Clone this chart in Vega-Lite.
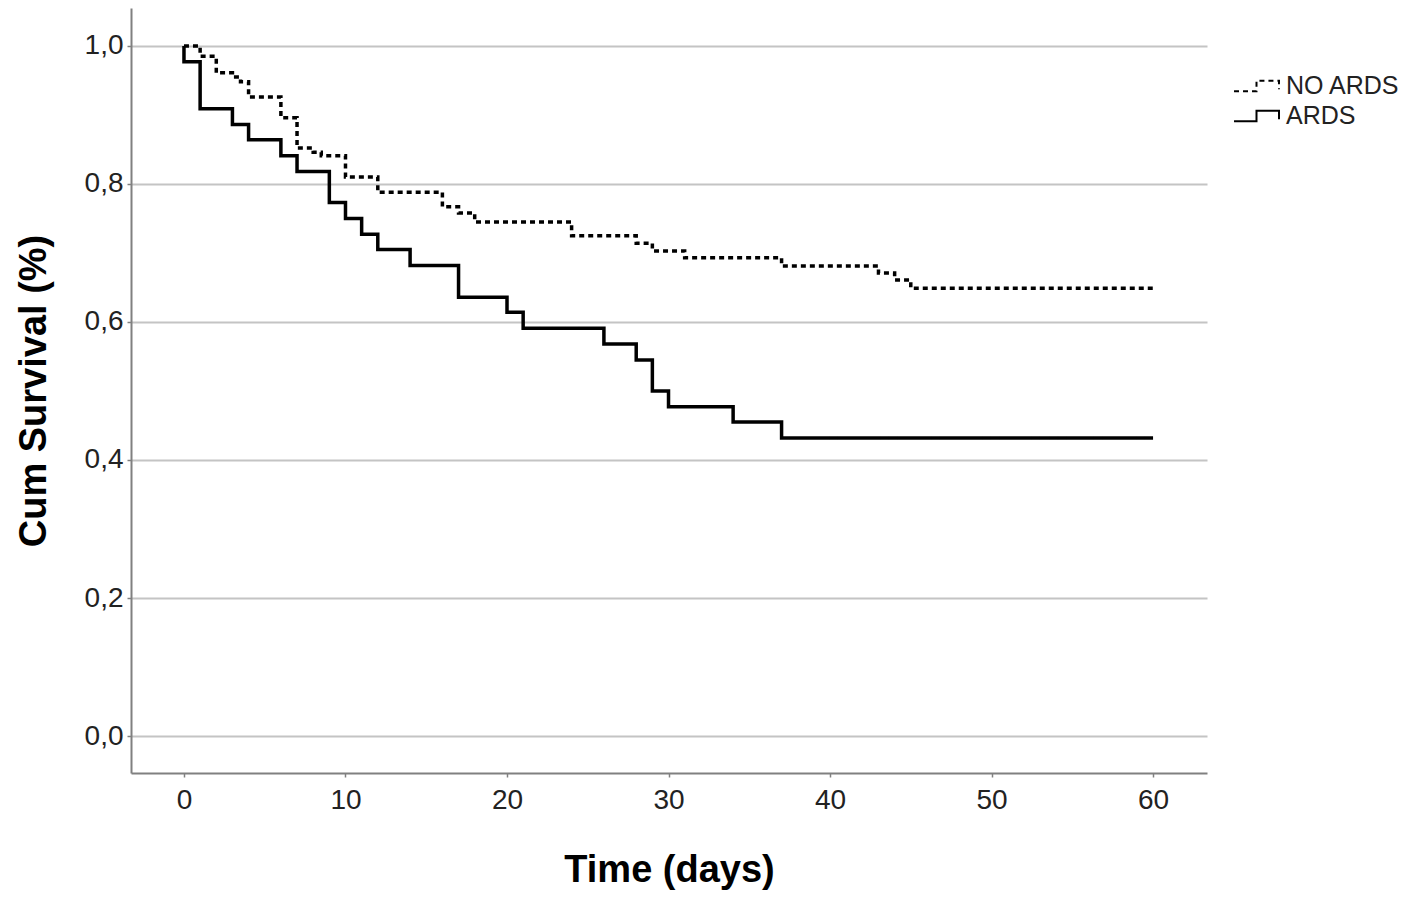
{
  "$schema": "https://vega.github.io/schema/vega-lite/v6.json",
  "width": 1076,
  "height": 765,
  "autosize": {"type": "none"},
  "padding": {"left": 131, "top": 8, "right": 210, "bottom": 132},
  "background": "white",
  "config": {"view": {"stroke": null}, "font": "Liberation Sans"},
  "data": {
    "values": [
      {"group": "ARDS", "seq": 1, "time": 0, "surv": 1.0},
      {"group": "ARDS", "seq": 2, "time": 0, "surv": 0.977},
      {"group": "ARDS", "seq": 3, "time": 1, "surv": 0.909},
      {"group": "ARDS", "seq": 4, "time": 3, "surv": 0.886},
      {"group": "ARDS", "seq": 5, "time": 4, "surv": 0.864},
      {"group": "ARDS", "seq": 6, "time": 6, "surv": 0.841},
      {"group": "ARDS", "seq": 7, "time": 7, "surv": 0.818},
      {"group": "ARDS", "seq": 8, "time": 9, "surv": 0.773},
      {"group": "ARDS", "seq": 9, "time": 10, "surv": 0.75},
      {"group": "ARDS", "seq": 10, "time": 11, "surv": 0.727},
      {"group": "ARDS", "seq": 11, "time": 12, "surv": 0.705},
      {"group": "ARDS", "seq": 12, "time": 14, "surv": 0.682},
      {"group": "ARDS", "seq": 13, "time": 17, "surv": 0.636},
      {"group": "ARDS", "seq": 14, "time": 20, "surv": 0.614},
      {"group": "ARDS", "seq": 15, "time": 21, "surv": 0.591},
      {"group": "ARDS", "seq": 16, "time": 26, "surv": 0.568},
      {"group": "ARDS", "seq": 17, "time": 28, "surv": 0.545},
      {"group": "ARDS", "seq": 18, "time": 29, "surv": 0.5},
      {"group": "ARDS", "seq": 19, "time": 30, "surv": 0.477},
      {"group": "ARDS", "seq": 20, "time": 34, "surv": 0.455},
      {"group": "ARDS", "seq": 21, "time": 37, "surv": 0.432},
      {"group": "ARDS", "seq": 22, "time": 60, "surv": 0.432},
      {"group": "NO ARDS", "seq": 1, "time": 0, "surv": 1.0},
      {"group": "NO ARDS", "seq": 2, "time": 1, "surv": 0.985},
      {"group": "NO ARDS", "seq": 3, "time": 2, "surv": 0.961},
      {"group": "NO ARDS", "seq": 4, "time": 3, "surv": 0.955},
      {"group": "NO ARDS", "seq": 5, "time": 3.5, "surv": 0.948},
      {"group": "NO ARDS", "seq": 6, "time": 4, "surv": 0.926},
      {"group": "NO ARDS", "seq": 7, "time": 6, "surv": 0.896},
      {"group": "NO ARDS", "seq": 8, "time": 7, "surv": 0.852},
      {"group": "NO ARDS", "seq": 9, "time": 8, "surv": 0.846},
      {"group": "NO ARDS", "seq": 10, "time": 8.5, "surv": 0.841},
      {"group": "NO ARDS", "seq": 11, "time": 10, "surv": 0.81},
      {"group": "NO ARDS", "seq": 12, "time": 12, "surv": 0.788},
      {"group": "NO ARDS", "seq": 13, "time": 16, "surv": 0.767},
      {"group": "NO ARDS", "seq": 14, "time": 17, "surv": 0.758},
      {"group": "NO ARDS", "seq": 15, "time": 18, "surv": 0.745},
      {"group": "NO ARDS", "seq": 16, "time": 24, "surv": 0.725},
      {"group": "NO ARDS", "seq": 17, "time": 28, "surv": 0.714},
      {"group": "NO ARDS", "seq": 18, "time": 29, "surv": 0.703},
      {"group": "NO ARDS", "seq": 19, "time": 31, "surv": 0.693},
      {"group": "NO ARDS", "seq": 20, "time": 37, "surv": 0.681},
      {"group": "NO ARDS", "seq": 21, "time": 43, "surv": 0.671},
      {"group": "NO ARDS", "seq": 22, "time": 44, "surv": 0.661},
      {"group": "NO ARDS", "seq": 23, "time": 45, "surv": 0.649},
      {"group": "NO ARDS", "seq": 24, "time": 60, "surv": 0.649}
    ]
  },
  "mark": {"type": "line", "interpolate": "step-after", "strokeWidth": 3.5, "color": "black"},
  "encoding": {
    "x": {
      "field": "time",
      "type": "quantitative",
      "scale": {"domain": [-3.28, 63.34], "nice": false, "zero": false},
      "axis": {
        "values": [0, 10, 20, 30, 40, 50, 60],
        "title": "Time (days)",
        "titleFont": "Liberation Sans",
        "titleFontSize": 38,
        "titleFontWeight": "bold",
        "titleColor": "black",
        "titlePadding": 37,
        "labelFont": "Liberation Sans",
        "labelFontSize": 28,
        "labelColor": "#222222",
        "labelPadding": 9,
        "labelFlush": false,
        "grid": false,
        "domainColor": "#808080",
        "domainWidth": 2,
        "tickColor": "#808080",
        "tickSize": 4,
        "tickWidth": 1.5
      }
    },
    "y": {
      "field": "surv",
      "type": "quantitative",
      "scale": {"domain": [-0.0536, 1.055], "nice": false, "zero": false},
      "axis": {
        "values": [0, 0.2, 0.4, 0.6, 0.8, 1.0],
        "labelExpr": "replace(format(datum.value, '.1f'), '.', ',')",
        "title": "Cum Survival (%)",
        "titleFont": "Liberation Sans",
        "titleFontSize": 38,
        "titleFontWeight": "bold",
        "titleColor": "black",
        "titlePadding": 31,
        "labelFont": "Liberation Sans",
        "labelFontSize": 28,
        "labelColor": "#222222",
        "labelPadding": 4,
        "grid": true,
        "gridColor": "#c4c4c4",
        "gridWidth": 2,
        "domainColor": "#808080",
        "domainWidth": 2,
        "tickColor": "#808080",
        "tickSize": 4,
        "tickWidth": 1.5
      }
    },
    "strokeDash": {
      "field": "group",
      "type": "nominal",
      "scale": {"domain": ["NO ARDS", "ARDS"], "range": [[5, 4], [1, 0]]},
      "legend": {
        "orient": "none",
        "legendX": 1110,
        "legendY": 62,
        "title": null,
        "symbolType": "M-1.55,0.4H0V-0.33H1.55V0.25",
        "symbolSize": 841,
        "symbolStrokeWidth": 2,
        "symbolStrokeColor": "black",
        "symbolFillColor": "transparent",
        "labelFont": "Liberation Sans",
        "labelFontSize": 25,
        "labelColor": "#222222",
        "labelOffset": 14,
        "rowPadding": 1
      }
    },
    "order": {"field": "seq", "type": "quantitative"}
  }
}
